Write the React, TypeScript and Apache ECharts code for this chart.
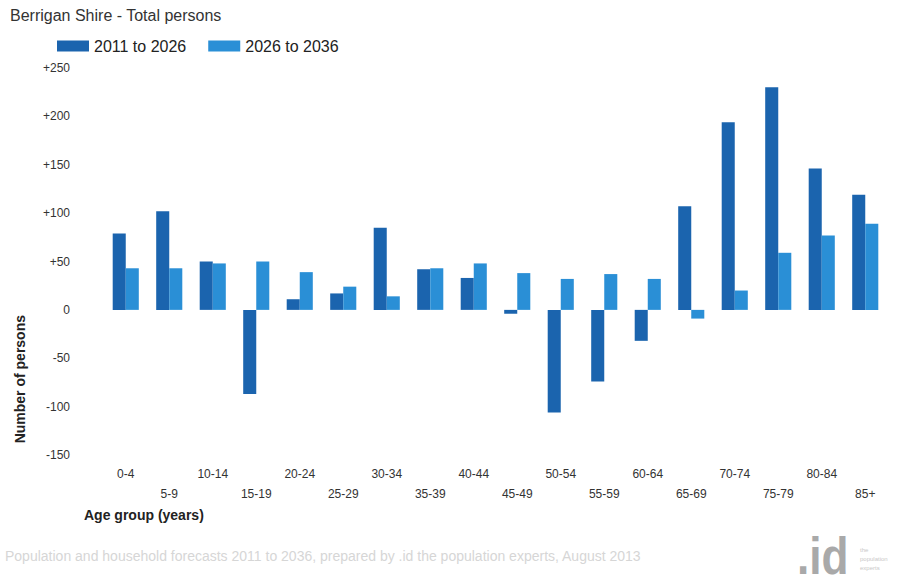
import React, { useEffect, useRef } from "react";
import * as echarts from "echarts";

const categories = ["0-4", "5-9", "10-14", "15-19", "20-24", "25-29", "30-34", "35-39", "40-44", "45-49", "50-54", "55-59", "60-64", "65-69", "70-74", "75-79", "80-84", "85+"];
const series2011to2026 = [79, 102, 50, -87, 11, 17, 85, 42, 33, -4, -106, -74, -32, 107, 194, 230, 146, 119];
const series2026to2036 = [43, 43, 48, 50, 39, 24, 14, 43, 48, 38, 32, 37, 32, -9, 20, 59, 77, 89];
const seriesNames = ["2011 to 2026", "2026 to 2036"];

const FONT = "Liberation Sans, Arial, sans-serif";

export default function App() {
  const ref = useRef<HTMLDivElement>(null);
  useEffect(() => {
    if (!ref.current) return;
    const chart = echarts.init(ref.current, null, { renderer: "svg" });
    chart.setOption({
      animation: false,
      backgroundColor: "#ffffff",
      textStyle: { fontFamily: FONT },
      title: {
        text: "Berrigan Shire - Total persons",
        left: 5,
        top: 2,
        textStyle: { fontFamily: FONT, fontSize: 16, fontWeight: "normal", color: "#333" },
      },
      legend: {
        left: 52,
        top: 33,
        itemWidth: 32,
        itemHeight: 11,
        itemGap: 22,
        icon: "rect",
        textStyle: { fontFamily: FONT, fontSize: 16, color: "#222" },
        data: seriesNames,
      },
      grid: { left: 104, right: 17, top: 68, bottom: 129, containLabel: false },
      xAxis: {
        type: "category",
        data: categories,
        position: "bottom",
        axisLine: { show: false },
        axisTick: { show: false },
        axisLabel: {
          interval: 0,
          margin: 9,
          fontFamily: FONT,
          fontSize: 12,
          color: "#333",
          lineHeight: 20,
          formatter: (v: string, i: number) => (i % 2 === 1 ? "\n" + v : v),
        },
      },
      yAxis: {
        type: "value",
        min: -150,
        max: 250,
        interval: 50,
        axisLine: { show: false },
        axisTick: { show: false },
        splitLine: { show: false },
        axisLabel: {
          margin: 34,
          fontFamily: FONT,
          fontSize: 12,
          color: "#333",
          formatter: (v: number) => (v > 0 ? "+" + v : String(v)),
        },
      },
      series: [
        {
          name: seriesNames[0],
          type: "bar",
          data: series2011to2026,
          barGap: "0%",
          barCategoryGap: "40%",
          itemStyle: { color: "#1b64ae" },
        },
        {
          name: seriesNames[1],
          type: "bar",
          data: series2026to2036,
          itemStyle: { color: "#2a8fd6" },
        },
      ],
      graphic: [
        {
          type: "text",
          left: 13,
          top: 315,
          rotation: Math.PI / 2,
          style: {
            text: "Number of persons",
            font: "bold 14px " + FONT,
            fill: "#222",
          },
        },
        {
          type: "text",
          x: 84,
          y: 508,
          style: { text: "Age group (years)", font: "bold 14px " + FONT, fill: "#222" },
        },
        {
          type: "text",
          x: 5,
          y: 549,
          style: {
            text: "Population and household forecasts 2011 to 2036, prepared by .id the population experts, August 2013",
            font: "14px " + FONT,
            fill: "#d6d6d6",
          },
        },
        {
          type: "text",
          x: 797,
          y: 530,
          scaleX: 0.85,
          style: { text: ".id", font: "bold 52px " + FONT, fill: "#a9a9a9" },
        },
        {
          type: "text",
          x: 860,
          y: 545,
          style: { text: "the\npopulation\nexperts", font: "6px " + FONT, fill: "#c8c8c8", lineHeight: 9 },
        },
      ],
    });
    return () => chart.dispose();
  }, []);
  return <div ref={ref} style={{ position: "fixed", left: 0, top: 0, width: 904, height: 584 }} />;
}
